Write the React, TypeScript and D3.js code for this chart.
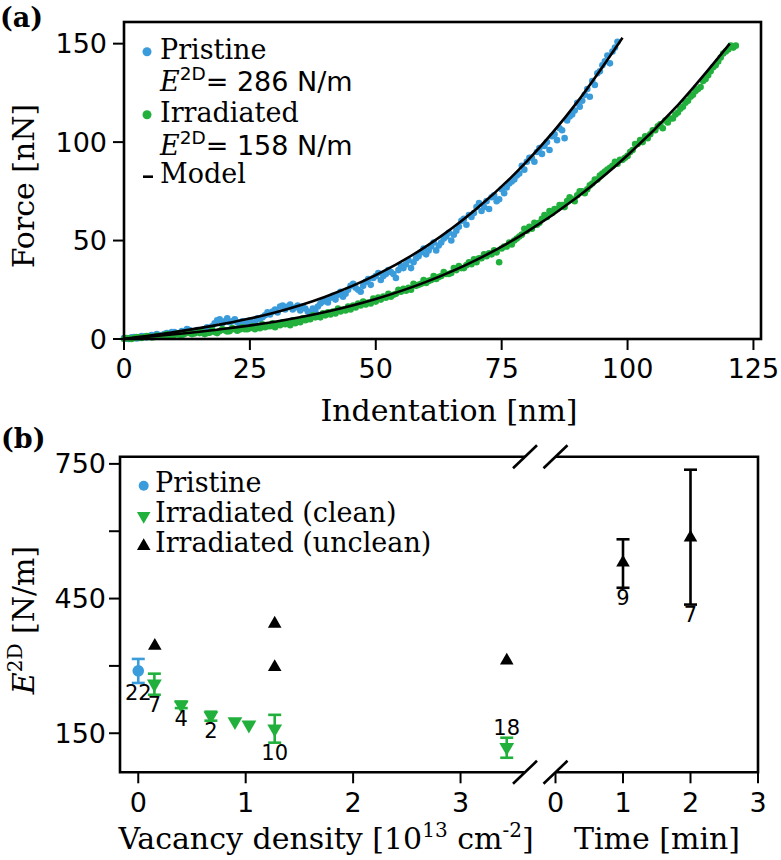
import * as d3 from 'd3';

// ---- panel (a): force vs indentation ----
const pristineForce: [number, number][] = [
  [0, 0.5], [1, 0], [2, 1], [3, 0.5], [4, 1.2], [5, 1.5], [6, 1], [7, 2], [8, 2.5], [9, 2],
  [10, 3.5], [11, 3], [12, 3.5], [13, 4.5], [14, 3.5], [15, 4], [16, 5], [17, 4.5], [18, 8], [19, 10],
  [20, 9], [21, 8.5], [22, 10], [23, 7.5], [24, 8], [25, 9.5], [26, 8.5], [27, 10], [28, 12], [29, 12.5],
  [30, 15], [31, 16.5], [32, 15], [33, 17.5], [34, 16], [35, 14.5], [36, 15.5], [37, 13], [38, 14], [39, 18],
  [40, 19.5], [41, 21], [42, 20], [43, 24], [44, 23], [45, 27], [46, 26], [47, 24], [48, 29], [49, 27.5],
  [50, 32], [51, 30], [52, 33], [53, 34], [54, 31], [55, 37], [56, 38], [57, 36], [58, 41], [59, 44],
  [60, 43], [61, 47], [62, 45], [63, 49], [64, 52], [65, 50], [66, 55], [67, 60], [68, 58], [69, 62],
  [70, 67], [71, 65], [72, 70], [73, 72], [74, 70], [75, 76], [76, 77], [77, 80], [78, 83], [79, 88],
  [80, 90], [81, 92], [82, 95], [83, 94], [84, 100], [85, 103], [86, 101], [87, 106], [88, 111], [89, 114],
  [90, 120], [91, 121], [92, 127], [93, 131], [94, 135], [95, 139], [96, 144], [97, 146], [98, 151],
  [0.5, 0.2], [1.5, 0.8], [2.5, 0.3], [3.5, 1.5], [4.5, 0.8], [5.5, 2], [6.5, 2.5], [7.5, 1.5], [8.5, 3], [9.5, 3.5],
  [10.5, 2.5], [11.5, 4], [12.5, 5], [13.5, 3], [14.5, 4.5], [15.5, 3.5], [16.5, 6], [17.5, 6.5], [18.5, 9.5], [19.5, 8],
  [20.5, 10.5], [21.5, 9], [22.5, 8.5], [23.5, 9], [24.5, 7], [25.5, 8], [26.5, 10.5], [27.5, 11], [28.5, 13.5], [29.5, 14],
  [30.5, 13.5], [31.5, 17], [32.5, 16.5], [33.5, 15], [34.5, 17], [35.5, 16.5], [36.5, 14], [37.5, 15.5], [38.5, 16.5], [39.5, 19],
  [40.5, 18.5], [41.5, 22], [42.5, 22.5], [43.5, 21.5], [44.5, 25], [45.5, 28], [46.5, 25], [47.5, 27], [48.5, 30.5], [49.5, 31],
  [50.5, 33.5], [51.5, 32], [52.5, 35], [53.5, 33], [54.5, 35], [55.5, 36], [56.5, 40], [57.5, 39], [58.5, 42], [59.5, 46],
  [60.5, 45], [61.5, 49], [62.5, 47.5], [63.5, 51], [64.5, 54], [65.5, 53], [66.5, 57], [67.5, 61], [68.5, 63], [69.5, 64],
  [70.5, 69], [71.5, 67], [72.5, 66], [73.5, 73], [74.5, 71], [75.5, 74], [76.5, 79], [77.5, 81], [78.5, 84], [79.5, 86],
  [80.5, 92], [81.5, 90], [82.5, 97], [83.5, 98], [84.5, 96], [85.5, 104], [86.5, 107], [87.5, 102], [88.5, 113], [89.5, 116],
  [90.5, 118], [91.5, 124], [92.5, 123], [93.5, 129], [94.5, 136], [95.5, 141], [96.5, 140], [97.5, 148],
];

const irradiatedForce: [number, number][] = [
  [0, 0], [1, 0.3], [2, 0.5], [3, 0.8], [4, 1], [5, 1.2], [6, 1], [7, 1.5], [8, 1.8], [9, 2],
  [10, 2], [11, 2.2], [12, 2.5], [13, 3], [14, 2.8], [15, 3], [16, 2.5], [17, 3.2], [18, 3.5], [19, 4],
  [20, 4.5], [21, 4], [22, 5], [23, 4.8], [24, 5], [25, 5.5], [26, 5], [27, 5.5], [28, 6], [29, 6.5],
  [30, 6], [31, 7], [32, 7.5], [33, 7], [34, 8], [35, 8.5], [36, 9.5], [37, 10], [38, 11], [39, 11],
  [40, 12], [41, 12.5], [42, 13], [43, 14], [44, 14.5], [45, 15], [46, 16], [47, 17], [48, 17.5], [49, 18],
  [50, 19], [51, 20], [52, 21], [53, 21.5], [54, 23], [55, 24], [56, 24.5], [57, 25], [58, 27], [59, 28],
  [60, 28.5], [61, 30], [62, 30.5], [63, 32], [64, 33], [65, 33.5], [66, 35], [67, 36], [68, 37.5], [69, 38],
  [70, 39], [71, 41], [72, 42], [73, 43], [74, 44], [75, 46], [76, 47], [77, 48], [78, 51], [79, 53],
  [80, 55], [81, 56], [82, 58], [83, 61], [84, 62], [85, 64], [86, 66], [87, 68], [88, 70], [89, 71],
  [90, 73], [91, 75], [92, 76], [93, 79], [94, 81], [95, 84], [96, 86], [97, 88], [98, 89], [99, 91],
  [100, 93], [101, 96], [102, 99], [103, 100], [104, 102], [105, 106], [106, 108], [107, 107], [108, 110], [109, 112],
  [110, 115], [111, 118], [112, 121], [113, 124], [114, 127], [115, 131], [116, 134], [117, 138], [118, 141], [119, 145],
  [120, 147], [121, 148],
  [0.5, 0.5], [1.5, 0], [2.5, 1], [3.5, 0.5], [4.5, 1.5], [5.5, 0.8], [6.5, 1.8], [7.5, 1.2], [8.5, 2.5], [9.5, 1.5],
  [10.5, 2.8], [11.5, 2], [12.5, 3.5], [13.5, 2.5], [14.5, 3.8], [15.5, 3.5], [16.5, 3], [17.5, 4.5], [18.5, 3], [19.5, 5],
  [20.5, 3.8], [21.5, 5.5], [22.5, 4.2], [23.5, 6], [24.5, 5], [25.5, 6.5], [26.5, 6], [27.5, 7.5], [28.5, 6.5], [29.5, 8],
  [30.5, 7.5], [31.5, 8.5], [32.5, 8], [33.5, 9.5], [34.5, 9], [35.5, 10.5], [36.5, 10], [37.5, 12], [38.5, 11.5], [39.5, 13],
  [40.5, 13.5], [41.5, 14], [42.5, 15.5], [43.5, 15], [44.5, 16.5], [45.5, 17], [46.5, 18], [47.5, 19], [48.5, 18.5], [49.5, 20.5],
  [50.5, 21], [51.5, 21.5], [52.5, 23], [53.5, 22.5], [54.5, 25], [55.5, 25.5], [56.5, 26], [57.5, 28], [58.5, 27.5], [59.5, 30],
  [60.5, 29.5], [61.5, 32], [62.5, 31.5], [63.5, 34], [64.5, 33], [65.5, 36], [66.5, 37], [67.5, 36], [68.5, 39], [69.5, 40.5],
  [70.5, 41], [71.5, 43], [72.5, 43.5], [73.5, 45], [74.5, 39], [75.5, 47], [76.5, 49], [77.5, 50], [78.5, 52], [79.5, 56],
  [80.5, 57], [81.5, 59], [82.5, 59], [83.5, 63], [84.5, 65], [85.5, 66], [86.5, 68], [87.5, 67], [88.5, 72], [89.5, 70],
  [90.5, 75], [91.5, 74], [92.5, 78], [93.5, 81], [94.5, 83], [95.5, 85], [96.5, 87], [97.5, 90], [98.5, 91], [99.5, 92],
  [100.5, 95], [101.5, 99], [102.5, 101], [103.5, 103], [104.5, 104], [105.5, 106], [106.5, 109], [107.5, 111], [108.5, 112], [109.5, 114],
  [110.5, 117], [111.5, 120], [112.5, 123], [113.5, 126], [114.5, 128], [115.5, 132], [116.5, 136], [117.5, 139], [118.5, 143], [119.5, 146],
  [120.5, 149], [121.5, 149],
];

const pristineModel: [number, number][] = [
  [0, 0], [10, 3.5], [20, 7.8], [25, 10.4], [30, 13.5], [40, 21.5], [50, 32.4], [60, 47], [70, 66.1], [80, 90.2], [90, 120.3], [99, 153],
];
const irradiatedModel: [number, number][] = [
  [0, 0], [10, 2.4], [20, 5.2], [30, 8.8], [40, 13.7], [50, 20.3], [60, 29], [70, 40.2], [80, 54.4], [90, 72], [100, 93.3], [110, 118.8], [120.3, 150],
];

const indentTicks = [0, 25, 50, 75, 100, 125];
const forceTicks = [0, 50, 100, 150];

// ---- panel (b): 2D modulus ----
type Pt = { x: number; y: number; lo?: number; hi?: number; n?: string; above?: boolean };
const pristineE: Pt[] = [{ x: 0, y: 289, lo: 262, hi: 315.5, n: '22' }];
const cleanE: Pt[] = [
  { x: 0.15, y: 260, lo: 235.7, hi: 282.7, n: '7' },
  { x: 0.4, y: 213, lo: 206, hi: 220.7, n: '4' },
  { x: 0.676, y: 189, lo: 178, hi: 198, n: '2' },
  { x: 0.9, y: 176 },
  { x: 1.03, y: 168.6 },
  { x: 1.27, y: 160, lo: 129, hi: 191, n: '10' },
  { x: 3.43, y: 119, lo: 95.4, hi: 140, n: '18', above: true },
];
const uncleanE: Pt[] = [
  { x: 0.154, y: 344.5 },
  { x: 1.27, y: 394 },
  { x: 1.27, y: 297.6 },
  { x: 3.43, y: 312 },
];
const timeE: Pt[] = [
  { x: 1, y: 530, lo: 474, hi: 582, n: '9' },
  { x: 2, y: 586, lo: 436.6, hi: 737, n: '7' },
];
const densityTicks = [0, 1, 2, 3];
const timeTicks = [0, 1, 2, 3];
const modulusTicks = [150, 300, 450, 600, 750];
const modulusLabels = [150, 450, 750];

const BLUE = '#3b9cdb';
const GREEN = '#22b03c';
const SANS = 'DejaVu Sans';
const SERIF = 'DejaVu Serif';

const A = { left: 124, right: 761, top: 22, bottom: 339 };
const B = { left: 120, brk1: 525, brk2: 555.5, right: 758, top: 456.7, bottom: 772.3 };

export default function App() {
  const xa = d3.scaleLinear().domain([0, 126.5]).range([A.left, A.right]);
  const ya = d3.scaleLinear().domain([0, 161]).range([A.bottom, A.top]);
  const xb = d3.scaleLinear().domain([-0.17, 3.6]).range([B.left, B.brk1]);
  const xt = d3.scaleLinear().domain([0, 3]).range([B.brk2, B.right]);
  const yb = d3.scaleLinear().domain([63, 766]).range([B.bottom, B.top]);

  const line = d3.line<[number, number]>().x((d) => xa(d[0])).y((d) => ya(d[1])).curve(d3.curveMonotoneX);
  const triUp = d3.symbol(d3.symbolTriangle, 80)()!;
  const triBig = d3.symbol(d3.symbolTriangle, 95)()!;

  const errBar = (d: Pt, sx: (v: number) => number, color: string, key: string) => {
    if (d.lo === undefined || d.hi === undefined) return null;
    const cx = sx(d.x);
    return (
      <g key={key} stroke={color} strokeWidth={2.6}>
        <line x1={cx} x2={cx} y1={yb(d.lo)} y2={yb(d.hi)} />
        <line x1={cx - 6.5} x2={cx + 6.5} y1={yb(d.lo)} y2={yb(d.lo)} />
        <line x1={cx - 6.5} x2={cx + 6.5} y1={yb(d.hi)} y2={yb(d.hi)} />
      </g>
    );
  };
  const countLabel = (d: Pt, sx: (v: number) => number, key: string) => {
    if (!d.n || d.lo === undefined || d.hi === undefined) return null;
    const y = d.above ? yb(d.hi) - 3 : yb(d.lo) + 17.5;
    return (
      <text key={key} x={sx(d.x)} y={y} textAnchor="middle" fontFamily={SANS} fontSize={21}>
        {d.n}
      </text>
    );
  };
  const breakMark = (cx: number, cy: number, key: string) => (
    <line key={key} x1={cx - 12} y1={cy + 11.5} x2={cx + 12} y2={cy - 11.5} stroke="#000" strokeWidth={2.6} />
  );

  return (
    <svg width={781} height={860} style={{ position: 'absolute', left: 0, top: 0, background: '#fff' }}>
      {/* panel (a) */}
      <text x={0} y={27} fontFamily={SERIF} fontWeight="bold" fontSize={27}>(a)</text>

      <g>
        {pristineForce.map((d, i) => (
          <circle key={'p' + i} cx={xa(d[0])} cy={ya(d[1])} r={3.3} fill={BLUE} />
        ))}
        {irradiatedForce.map((d, i) => (
          <circle key={'g' + i} cx={xa(d[0])} cy={ya(d[1])} r={3.3} fill={GREEN} />
        ))}
        <path d={line(pristineModel)!} fill="none" stroke="#000" strokeWidth={2.6} />
        <path d={line(irradiatedModel)!} fill="none" stroke="#000" strokeWidth={2.6} />
      </g>

      <rect x={A.left} y={A.top} width={A.right - A.left} height={A.bottom - A.top} fill="none" stroke="#000" strokeWidth={2.6} />
      {indentTicks.map((t) => (
        <g key={'xa' + t}>
          <line x1={xa(t)} x2={xa(t)} y1={A.bottom} y2={A.bottom + 11} stroke="#000" strokeWidth={2} />
          <text x={xa(t)} y={378} textAnchor="middle" fontFamily={SANS} fontSize={27}>{t}</text>
        </g>
      ))}
      {forceTicks.map((t) => (
        <g key={'ya' + t}>
          <line x1={A.left - 11} x2={A.left} y1={ya(t)} y2={ya(t)} stroke="#000" strokeWidth={2} />
          <text x={107} y={ya(t) + 9.5} textAnchor="end" fontFamily={SANS} fontSize={27}>{t}</text>
        </g>
      ))}
      <text x={449} y={421} textAnchor="middle" fontFamily={SERIF} fontSize={30}>Indentation [nm]</text>
      <text transform="translate(34,186) rotate(-90)" textAnchor="middle" fontFamily={SERIF} fontSize={30}>Force [nN]</text>

      {/* legend (a) */}
      <circle cx={147} cy={51.7} r={4.5} fill={BLUE} />
      <text x={160} y={59.3} fontFamily={SERIF} fontSize={27}>Pristine</text>
      <text x={160} y={91} fontSize={27} fontFamily={SANS}>
        <tspan fontFamily={SERIF} fontStyle="italic">E</tspan>
        <tspan fontSize={18.5} dy={-11}>2D</tspan>
        <tspan dy={11}>= 286 N/m</tspan>
      </text>
      <circle cx={147} cy={114.7} r={4.5} fill={GREEN} />
      <text x={160} y={121.7} fontFamily={SERIF} fontSize={27}>Irradiated</text>
      <text x={160} y={155} fontSize={27} fontFamily={SANS}>
        <tspan fontFamily={SERIF} fontStyle="italic">E</tspan>
        <tspan fontSize={18.5} dy={-11}>2D</tspan>
        <tspan dy={11}>= 158 N/m</tspan>
      </text>
      <line x1={143} x2={153} y1={176.7} y2={176.7} stroke="#000" strokeWidth={2.6} />
      <text x={160} y={183.3} fontFamily={SERIF} fontSize={27}>Model</text>

      {/* panel (b) */}
      <text x={1} y={448} fontFamily={SERIF} fontWeight="bold" fontSize={27}>(b)</text>

      <path
        d={`M${B.brk1},${B.top}H${B.left}V${B.bottom}H${B.brk1}M${B.brk2},${B.top}H${B.right}V${B.bottom}H${B.brk2}`}
        fill="none"
        stroke="#000"
        strokeWidth={2.6}
      />
      {breakMark(B.brk1, B.top, 'b1')}
      {breakMark(B.brk2, B.top, 'b2')}
      {breakMark(B.brk1, B.bottom, 'b3')}
      {breakMark(B.brk2, B.bottom, 'b4')}

      {modulusTicks.map((t) => (
        <line key={'yb' + t} x1={B.left - 11} x2={B.left} y1={yb(t)} y2={yb(t)} stroke="#000" strokeWidth={2} />
      ))}
      {modulusLabels.map((t) => (
        <text key={'ybl' + t} x={106} y={yb(t) + 9.5} textAnchor="end" fontFamily={SANS} fontSize={27}>{t}</text>
      ))}
      {densityTicks.map((t) => (
        <g key={'xb' + t}>
          <line x1={xb(t)} x2={xb(t)} y1={B.bottom} y2={B.bottom + 11} stroke="#000" strokeWidth={2} />
          <text x={xb(t)} y={812} textAnchor="middle" fontFamily={SANS} fontSize={27}>{t}</text>
        </g>
      ))}
      {timeTicks.map((t) => (
        <g key={'xt' + t}>
          <line x1={xt(t)} x2={xt(t)} y1={B.bottom} y2={B.bottom + 11} stroke="#000" strokeWidth={2} />
          <text x={xt(t)} y={812} textAnchor="middle" fontFamily={SANS} fontSize={27}>{t}</text>
        </g>
      ))}

      <text x={326} y={849} textAnchor="middle" fontFamily={SERIF} fontSize={30}>
        Vacancy density [10<tspan fontSize={20} dy={-12}>13</tspan>
        <tspan dy={12}> cm</tspan>
        <tspan fontSize={20} dy={-12}>-2</tspan>
        <tspan dy={12}>]</tspan>
      </text>
      <text x={657} y={849} textAnchor="middle" fontFamily={SERIF} fontSize={30}>Time [min]</text>
      <text transform="translate(34,620) rotate(-90)" textAnchor="middle" fontFamily={SERIF} fontSize={30}>
        <tspan fontStyle="italic">E</tspan>
        <tspan fontSize={20} dy={-12}>2D</tspan>
        <tspan dy={12}>{'  [N/m]'}</tspan>
      </text>

      {/* error bars and markers */}
      {pristineE.map((d, i) => errBar(d, xb, BLUE, 'pe' + i))}
      {cleanE.map((d, i) => errBar(d, xb, GREEN, 'ce' + i))}
      {timeE.map((d, i) => errBar(d, xt, '#000', 'te' + i))}
      {pristineE.map((d, i) => (
        <circle key={'pm' + i} cx={xb(d.x)} cy={yb(d.y)} r={5.8} fill={BLUE} />
      ))}
      {cleanE.map((d, i) => (
        <path key={'cm' + i} d={triBig} fill={GREEN} transform={`translate(${xb(d.x)},${yb(d.y)}) rotate(180)`} />
      ))}
      {uncleanE.map((d, i) => (
        <path key={'um' + i} d={triUp} fill="#000" transform={`translate(${xb(d.x)},${yb(d.y)})`} />
      ))}
      {timeE.map((d, i) => (
        <path key={'tm' + i} d={triUp} fill="#000" transform={`translate(${xt(d.x)},${yb(d.y)})`} />
      ))}
      {pristineE.map((d, i) => countLabel(d, xb, 'pl' + i))}
      {cleanE.map((d, i) => countLabel(d, xb, 'cl' + i))}
      {timeE.map((d, i) => countLabel(d, xt, 'tl' + i))}

      {/* legend (b) */}
      <circle cx={143.7} cy={485.7} r={5} fill={BLUE} />
      <text x={155} y={491.7} fontFamily={SERIF} fontSize={27}>Pristine</text>
      <path d={triUp} fill={GREEN} transform="translate(143.7,516) rotate(180)" />
      <text x={155} y={521.7} fontFamily={SERIF} fontSize={27}>Irradiated (clean)</text>
      <path d={triUp} fill="#000" transform="translate(143.7,546)" />
      <text x={155} y={551.7} fontFamily={SERIF} fontSize={27}>Irradiated (unclean)</text>
    </svg>
  );
}
